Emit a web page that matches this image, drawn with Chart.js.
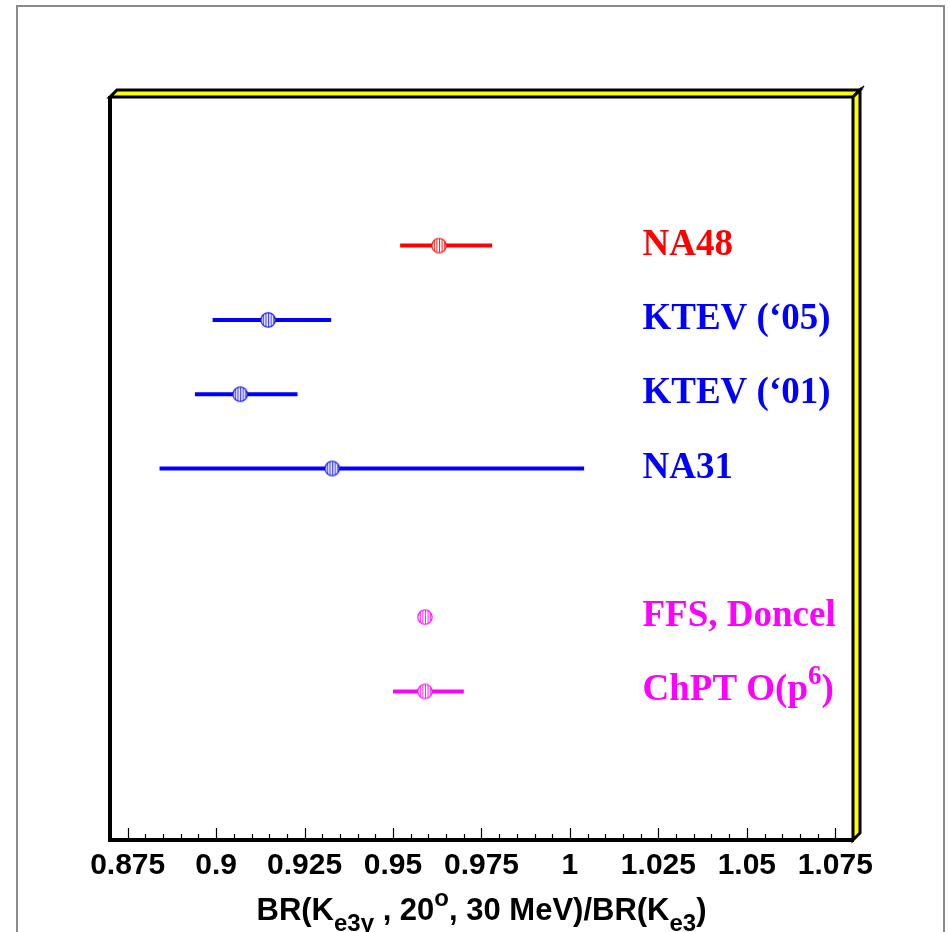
<!DOCTYPE html>
<html>
<head>
<meta charset="utf-8">
<script src="https://cdn.jsdelivr.net/npm/chart.js@4"></script>
<style>
  body { margin: 0; background: #fff; }
  #page { position: absolute; left: 16px; top: 5px; width: 925px; height: 1000px;
          border: 2px solid #8a8a8a; border-bottom: none; }
  #c { position: absolute; left: 0; top: 0; }
</style>
</head>
<body>
<div id="page"></div>
<canvas id="c" width="948" height="932"></canvas>
<script>
// ========================
// DONNÉES
// ========================
const names   = ["NA48", "KTEV (‘05)", "KTEV (‘01)", "NA31", "FFS, Doncel", "ChPT O(p6)"];
const rowY    = [8, 7, 6, 5, 3, 2];
const central = [0.963, 0.9147, 0.9068, 0.9328, 0.959, 0.959];
const errLo   = [0.952, 0.899, 0.894, 0.884, null, 0.950];
const errHi   = [0.978, 0.9325, 0.923, 1.004, null, 0.970];
const colors  = ["#ff0000", "#0000ff", "#0000ff", "#0000ff", "#ff00ff", "#ff00ff"];
const xTicks  = [0.875, 0.9, 0.925, 0.95, 0.975, 1, 1.025, 1.05, 1.075];
const X_MIN = 0.870, X_MAX = 1.080;
const LABEL_X = 1.0205;

// ========================
// MARQUEUR (cercle hachuré)
// ========================
function makeMarker(color) {
    const c = document.createElement("canvas");
    c.width = 18; c.height = 18;
    const g = c.getContext("2d");
    const cx = 9, cy = 9, r = 7.2;
    g.fillStyle = "#fff";
    g.beginPath(); g.arc(cx, cy, r, 0, 2 * Math.PI); g.fill();
    g.save();
    g.beginPath(); g.arc(cx, cy, r, 0, 2 * Math.PI); g.clip();
    g.strokeStyle = color; g.lineWidth = 0.9;
    for (let k = -2; k <= 2; k++) {
        g.beginPath();
        g.moveTo(cx + 0.5 + k * 2.6, cy - r); g.lineTo(cx + 0.5 + k * 2.6, cy + r);
        g.stroke();
    }
    g.restore();
    g.strokeStyle = color; g.lineWidth = 1.1;
    g.beginPath(); g.arc(cx, cy, r, 0, 2 * Math.PI); g.stroke();
    return c;
}

// texte avec indices / exposants
function richText(ctx, segs, x, y, size, family, color, align, small) {
    const f = (s) => "bold " + s + "px " + family;
    const ss = Math.round(size * small);
    let w = 0;
    segs.forEach(s => {
        ctx.font = f(s.sub || s.sup ? ss : size);
        w += ctx.measureText(s.t).width;
    });
    let px = align === "center" ? x - w / 2 : x;
    ctx.fillStyle = color;
    ctx.textBaseline = "alphabetic";
    ctx.textAlign = "left";
    segs.forEach(s => {
        ctx.font = f(s.sub || s.sup ? ss : size);
        const dy = s.sub ? size * 0.36 : (s.sup ? -size * 0.45 : 0);
        ctx.fillText(s.t, px, y + dy);
        px += ctx.measureText(s.t).width;
    });
}

// ========================
// DATASETS
// ========================
const datasets = [];
names.forEach((n, i) => {
    if (errLo[i] !== null) {
        datasets.push({
            type: "line",
            data: [{ x: errLo[i], y: rowY[i] }, { x: errHi[i], y: rowY[i] }],
            borderColor: colors[i], borderWidth: 4, pointRadius: 0,
            order: 2
        });
    }
});
datasets.push({
    type: "scatter",
    data: central.map((v, i) => ({ x: v, y: rowY[i] })),
    pointStyle: colors.map(makeMarker),
    pointRadius: 8,
    order: 1
});

// ========================
// PLUGIN : cadre, ticks, étiquettes, titre
// ========================
const decor = {
    id: "decor",
    afterDraw(chart) {
        const ctx = chart.ctx;
        const a = chart.chartArea;
        const xs = chart.scales.x, ys = chart.scales.y;
        const d = 7;
        ctx.save();

        // ticks (majeurs + mineurs)
        ctx.strokeStyle = "#000"; ctx.lineWidth = 1.2;
        for (let k = Math.ceil(X_MIN / 0.005 + 1e-6); k * 0.005 < X_MAX - 1e-6; k++) {
            const v = k * 0.005;
            const major = Math.abs(v / 0.025 - Math.round(v / 0.025)) < 1e-6;
            const px = Math.round(xs.getPixelForValue(v)) + 0.5;
            ctx.beginPath();
            ctx.moveTo(px, a.bottom); ctx.lineTo(px, a.bottom - (major ? 12 : 6));
            ctx.stroke();
        }

        // boîte 3D jaune
        ctx.lineJoin = "miter";
        ctx.fillStyle = "#ffff00"; ctx.strokeStyle = "#000"; ctx.lineWidth = 3;
        ctx.beginPath();
        ctx.moveTo(a.left, a.top); ctx.lineTo(a.right, a.top);
        ctx.lineTo(a.right + d, a.top - d); ctx.lineTo(a.left + d, a.top - d);
        ctx.closePath(); ctx.fill(); ctx.stroke();
        ctx.beginPath();
        ctx.moveTo(a.right, a.top); ctx.lineTo(a.right + d, a.top - d);
        ctx.lineTo(a.right + d, a.bottom - d); ctx.lineTo(a.right, a.bottom);
        ctx.closePath(); ctx.fill(); ctx.stroke();
        ctx.beginPath();
        ctx.moveTo(a.right + d, a.top - d); ctx.lineTo(a.right + d + 4, a.top - d - 4);
        ctx.lineWidth = 1.5; ctx.stroke();
        ctx.lineWidth = 4;
        ctx.beginPath();
        ctx.moveTo(a.left, a.top - 1); ctx.lineTo(a.left, a.bottom);
        ctx.lineTo(a.right + 1, a.bottom);
        ctx.stroke();

        // étiquettes
        names.forEach((n, i) => {
            const x = xs.getPixelForValue(LABEL_X);
            const y = ys.getPixelForValue(rowY[i]) + 9;
            let segs = [{ t: n }];
            if (n === "ChPT O(p6)") segs = [{ t: "ChPT O(p" }, { t: "6", sup: true }, { t: ")" }];
            richText(ctx, segs, x, y, 37, "'Liberation Serif', 'Times New Roman', serif", colors[i], "left", 0.72);
        });

        // titre de l'axe X
        richText(ctx, [
            { t: "BR(K" }, { t: "e3γ", sub: true }, { t: " , 20" }, { t: "o", sup: true },
            { t: ", 30 MeV)/BR(K" }, { t: "e3", sub: true }, { t: ")" }
        ], (a.left + a.right) / 2, 920, 31, "'Liberation Sans', Arial, sans-serif", "#000", "center", 0.78);

        ctx.restore();
    }
};

// ========================
// GRAPHIQUE
// ========================
new Chart(document.getElementById("c"), {
    type: "scatter",
    data: { datasets },
    options: {
        responsive: false,
        devicePixelRatio: 1,
        animation: false,
        layout: { padding: { left: 110, top: 97, right: 95, bottom: 0 } },
        plugins: { legend: { display: false }, tooltip: { enabled: false } },
        scales: {
            x: {
                type: "linear", min: X_MIN, max: X_MAX,
                grid: { display: false, drawTicks: false, tickLength: 0 },
                border: { display: false },
                afterBuildTicks: (s) => { s.ticks = xTicks.map(v => ({ value: v })); },
                afterFit: (s) => { s.height = 92; },
                ticks: {
                    autoSkip: false, maxRotation: 0, padding: 8, color: "#000",
                    font: { family: "'Liberation Sans', Arial, sans-serif", size: 30, weight: "bold" },
                    callback: (v) => String(+Number(v).toFixed(3))
                }
            },
            y: { type: "linear", min: 0, max: 10, display: false }
        }
    },
    plugins: [decor]
});
</script>
</body>
</html>
